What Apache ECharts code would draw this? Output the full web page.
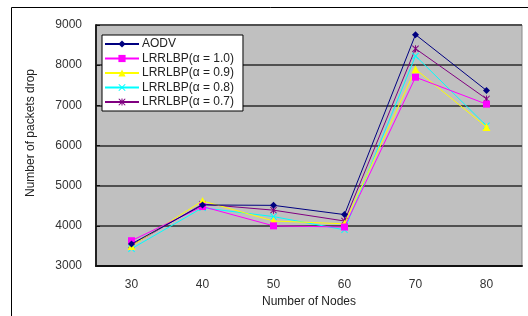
<!DOCTYPE html>
<html><head><meta charset="utf-8">
<script src="https://cdn.jsdelivr.net/npm/echarts@6/dist/echarts.min.js"></script>
<style>html,body{margin:0;padding:0;background:#fff;}#c{width:528px;height:316px;}</style>
</head><body><div id="c"></div>
<script>
var categories = ['30', '40', '50', '60', '70', '80'];
var seriesNames = ['AODV', 'LRRLBP(α = 1.0)', 'LRRLBP(α = 0.9)', 'LRRLBP(α = 0.8)', 'LRRLBP(α = 0.7)'];
var aodv   = [3550, 4520, 4510, 4280, 8760, 7370];
var alpha10 = [3630, 4480, 4000, 3970, 7700, 7030];
var alpha09 = [3500, 4620, 4120, 4050, 7900, 6460];
var alpha08 = [3430, 4450, 4230, 3900, 8230, 6490];
var alpha07 = [3520, 4540, 4390, 4120, 8410, 7160];
var yTicks = [3000, 4000, 5000, 6000, 7000, 8000, 9000];
var xTitle = 'Number of Nodes';
var yTitle = 'Number of packets drop';

var colors = ['#000080', '#ff00ff', '#ffff00', '#00ffff', '#800080'];
var crossPath = 'path://M0,1L1,0L5,4L9,0L10,1L6,5L10,9L9,10L5,6L1,10L0,9L4,5Z';
var starPath = 'path://M0,1L1,0L5,4L9,0L10,1L6,5L10,9L9,10L5,6L1,10L0,9L4,5Z M4.3,0L5.7,0L5.7,10L4.3,10Z';
var symbols = ['diamond', 'rect', 'triangle', crossPath, starPath];
var sizes = [7, 7, 8, 7, 7];
var dataSets = [aodv, alpha10, alpha09, alpha08, alpha07];
var font = 'Liberation Sans, Arial, sans-serif';

var chart = echarts.init(document.getElementById('c'), null, {renderer: 'canvas'});
var series = seriesNames.map(function (n, i) {
  return {
    name: n, type: 'line', data: dataSets[i], symbol: symbols[i], symbolSize: sizes[i],
    lineStyle: {color: colors[i], width: 1}, itemStyle: {color: colors[i]},
    showAllSymbol: true, animation: false, z: 10 - i
  };
});
chart.setOption({
  animation: false,
  color: colors,
  graphic: [
    {type: 'rect', shape: {x: 11.5, y: 7.5, width: 600, height: 400}, style: {fill: 'none', stroke: '#000', lineWidth: 1}, z: -10},
    {type: 'text', x: 31, y: 133, rotation: Math.PI / 2, style: {text: yTitle, font: '12px ' + font, fill: '#222', align: 'center', verticalAlign: 'middle'}}
  ],
  grid: {left: 96, right: 6, top: 25, bottom: 50, show: true, backgroundColor: '#c0c0c0', borderColor: '#888', borderWidth: 1},
  legend: {
    orient: 'vertical', left: 102, top: 35, data: seriesNames,
    backgroundColor: '#fff', borderColor: '#000', borderWidth: 1,
    padding: [3, 9, 3, 2], itemWidth: 34, itemHeight: 9, itemGap: 2.5, itemStyle: {borderWidth: 0},
    textStyle: {fontFamily: font, fontSize: 12, lineHeight: 12, color: '#222', padding: [0, 0, 0, -2]}
  },
  xAxis: {
    type: 'category', data: categories, boundaryGap: true,
    name: xTitle, nameLocation: 'middle', nameGap: 29,
    nameTextStyle: {fontFamily: font, fontSize: 12, color: '#222'},
    axisLine: {lineStyle: {color: '#111', width: 2}},
    axisTick: {inside: true, length: 4, lineStyle: {color: '#111'}},
    axisLabel: {fontFamily: font, fontSize: 12, color: '#333', margin: 13},
    splitLine: {show: false}
  },
  yAxis: {
    type: 'value', min: yTicks[0], max: yTicks[yTicks.length - 1], interval: 1000,
    axisLine: {show: true, lineStyle: {color: '#222', width: 2}},
    axisTick: {show: true, inside: true, length: 4, lineStyle: {color: '#111'}},
    axisLabel: {fontFamily: font, fontSize: 12, color: '#333', margin: 14, formatter: function (v) { return String(v); }},
    splitLine: {lineStyle: {color: '#505050', width: 2}}
  },
  series: series
});
</script></body></html>
